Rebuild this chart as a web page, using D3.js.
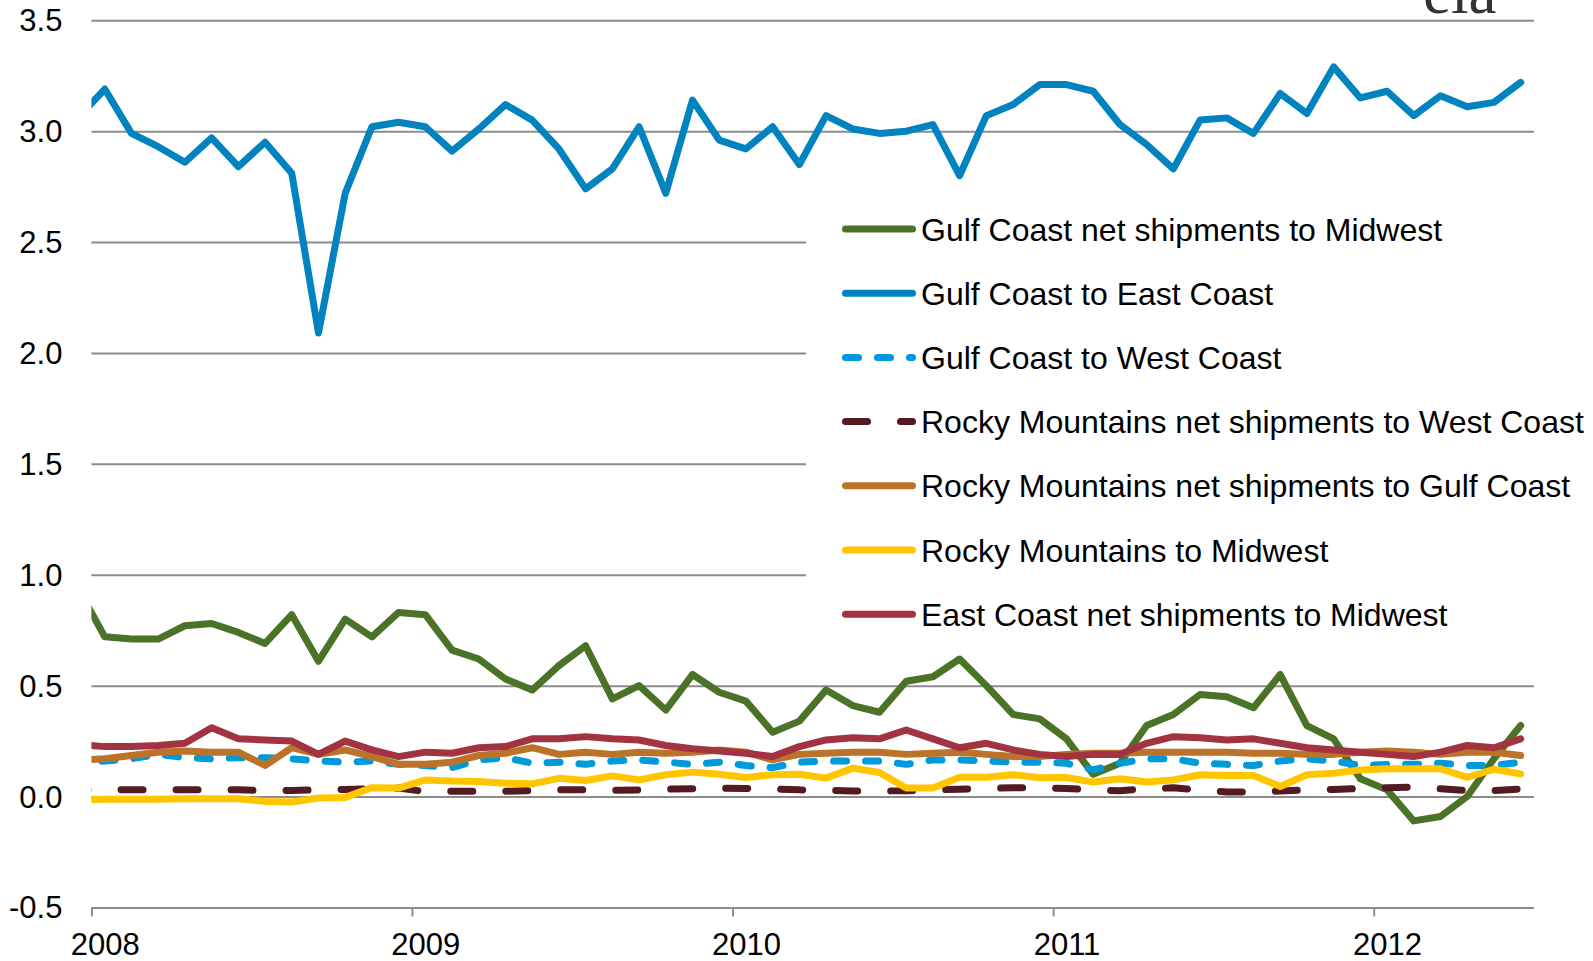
<!DOCTYPE html>
<html>
<head>
<meta charset="utf-8">
<script src="https://cdn.jsdelivr.net/npm/d3@7"></script>
<style>
  body { margin: 0; background: #fff; }
  svg { display: block; }
</style>
</head>
<body>
<div id="vis"></div>
<script>
// monthly points, Dec 2007 - Jun 2012 (Dec 2007 sits left of the plot and gets clipped)
let months = d3.timeMonth.range(new Date(2007, 11, 1), new Date(2012, 6, 1))

let gulfToMidwest = [
  0.94, 0.72, 0.71, 0.71, 0.77, 0.78, 0.74, 0.69, 0.82, 0.61, 0.80, 0.72,
  0.83, 0.82, 0.66, 0.62, 0.53, 0.48, 0.59, 0.68, 0.44, 0.50, 0.39, 0.55,
  0.47, 0.43, 0.29, 0.34, 0.48, 0.41, 0.38, 0.52, 0.54, 0.62, 0.50, 0.37,
  0.35, 0.26, 0.10, 0.15, 0.32, 0.37, 0.46, 0.45, 0.40, 0.55, 0.32, 0.26,
  0.08, 0.03, -0.11, -0.09, 0.00, 0.17, 0.32]
let gulfToEast = [
  3.06, 3.19, 2.99, 2.93, 2.86, 2.97, 2.84, 2.95, 2.81, 2.09, 2.72, 3.02,
  3.04, 3.02, 2.91, 3.01, 3.12, 3.05, 2.92, 2.74, 2.83, 3.02, 2.72, 3.14,
  2.96, 2.92, 3.02, 2.85, 3.07, 3.01, 2.99, 3.00, 3.03, 2.80, 3.07, 3.12,
  3.21, 3.21, 3.18, 3.03, 2.94, 2.83, 3.05, 3.06, 2.99, 3.17, 3.08, 3.29,
  3.15, 3.18, 3.07, 3.16, 3.11, 3.13, 3.22]
let gulfToWest = [
  0.155, 0.16, 0.17, 0.19, 0.175, 0.17, 0.175, 0.175, 0.17, 0.16, 0.155, 0.16,
  0.145, 0.14, 0.13, 0.165, 0.175, 0.15, 0.155, 0.145, 0.16, 0.165, 0.155, 0.145,
  0.155, 0.14, 0.13, 0.155, 0.16, 0.16, 0.16, 0.145, 0.165, 0.165, 0.16, 0.155,
  0.155, 0.15, 0.12, 0.15, 0.17, 0.17, 0.15, 0.145, 0.14, 0.16, 0.17, 0.16,
  0.14, 0.145, 0.145, 0.15, 0.14, 0.14, 0.155]
let rockyToWest = [
  0.03, 0.032, 0.03, 0.03, 0.03, 0.03, 0.03, 0.026, 0.027, 0.03, 0.032, 0.035,
  0.038, 0.022, 0.024, 0.024, 0.024, 0.027, 0.03, 0.03, 0.028, 0.03, 0.033, 0.035,
  0.037, 0.036, 0.034, 0.03, 0.029, 0.025, 0.025, 0.026, 0.03, 0.033, 0.036, 0.04,
  0.04, 0.036, 0.03, 0.026, 0.035, 0.039, 0.03, 0.02, 0.02, 0.025, 0.03, 0.032,
  0.036, 0.04, 0.042, 0.035, 0.027, 0.027, 0.034]
let rockyToGulf = [
  0.165, 0.17, 0.185, 0.20, 0.205, 0.20, 0.20, 0.14, 0.22, 0.19, 0.21, 0.18,
  0.145, 0.145, 0.155, 0.185, 0.195, 0.22, 0.19, 0.20, 0.19, 0.20, 0.195, 0.20,
  0.21, 0.20, 0.165, 0.19, 0.195, 0.20, 0.20, 0.19, 0.195, 0.20, 0.19, 0.18,
  0.18, 0.19, 0.195, 0.195, 0.20, 0.20, 0.20, 0.20, 0.195, 0.195, 0.19, 0.19,
  0.20, 0.205, 0.20, 0.19, 0.20, 0.20, 0.185]
let rockyToMidwest = [
  -0.015, -0.012, -0.012, -0.012, -0.01, -0.01, -0.01, -0.022, -0.025, -0.007, -0.004, 0.04,
  0.038, 0.075, 0.07, 0.068, 0.06, 0.057, 0.082, 0.072, 0.093, 0.075, 0.098, 0.11,
  0.10, 0.086, 0.098, 0.10, 0.083, 0.128, 0.108, 0.038, 0.038, 0.087, 0.087, 0.098,
  0.085, 0.086, 0.065, 0.08, 0.065, 0.075, 0.098, 0.095, 0.095, 0.045, 0.098, 0.105,
  0.12, 0.125, 0.125, 0.125, 0.086, 0.123, 0.102]
let eastToMidwest = [
  0.235, 0.225, 0.225, 0.23, 0.24, 0.31, 0.26, 0.255, 0.25, 0.19, 0.25, 0.21,
  0.18, 0.20, 0.195, 0.22, 0.225, 0.26, 0.26, 0.27, 0.26, 0.255, 0.23, 0.215,
  0.205, 0.195, 0.18, 0.225, 0.255, 0.265, 0.26, 0.30, 0.26, 0.22, 0.24, 0.21,
  0.19, 0.18, 0.19, 0.19, 0.24, 0.27, 0.265, 0.255, 0.26, 0.24, 0.22, 0.21,
  0.20, 0.19, 0.18, 0.20, 0.23, 0.22, 0.26]

let labels = [
  "Gulf Coast net shipments to Midwest",
  "Gulf Coast to East Coast",
  "Gulf Coast to West Coast",
  "Rocky Mountains net shipments to West Coast",
  "Rocky Mountains net shipments to Gulf Coast",
  "Rocky Mountains to Midwest",
  "East Coast net shipments to Midwest"
]
let yTicks = [-0.5, 0, 0.5, 1, 1.5, 2, 2.5, 3, 3.5]
let years = [2008, 2009, 2010, 2011, 2012]

let series = [
  { values: gulfToMidwest, color: "#4a7328" },
  { values: gulfToEast, color: "#0083bf" },
  { values: gulfToWest, color: "#0099d9", dash: "13,19", offset: 8 },
  { values: rockyToWest, color: "#531a22", dash: "22,33", offset: 12 },
  { values: rockyToGulf, color: "#bd7229" },
  { values: rockyToMidwest, color: "#ffc600" },
  { values: eastToMidwest, color: "#a33340" }
].map((s, i) => ({ ...s, label: labels[i] }))

const W = 1593, H = 961
const plotLeft = 91.4, plotRight = 1534, plotTop = 20.3, plotBottom = 907.4
const font = "'Liberation Sans', Arial, sans-serif"
const lineWidth = 7

let svg = d3.select("#vis").append("svg")
    .attr("width", W)
    .attr("height", H)
    .attr("font-family", font)
    .style("background", "#fff")

let x = d3.scaleLinear().domain([2008, 2012.5]).range([plotLeft, plotRight])
let y = d3.scaleLinear().domain([-0.5, 3.5]).range([plotBottom, plotTop])

// mid-month position as a fractional year
let when = d => d.getFullYear() + (d.getMonth() + 0.5) / 12

svg.append("clipPath").attr("id", "plot")
  .append("rect")
    .attr("x", plotLeft).attr("y", 0)
    .attr("width", plotRight - plotLeft).attr("height", H)

// gridlines double as the y axis; the -0.5 one is the x axis line
let fmt = d3.format(".1f")
let gy = svg.append("g")
    .attr("transform", `translate(${plotLeft},0)`)
    .call(d3.axisLeft(y)
        .tickValues(yTicks)
        .tickFormat(d => fmt(d).replace("\u2212", "-"))
        .tickSizeInner(-(plotRight - plotLeft))
        .tickSizeOuter(0)
        .tickPadding(29))
    .attr("font-family", font)
    .attr("font-size", 31)
gy.select(".domain").remove()
gy.selectAll("line").attr("stroke", "#8c8c8c").attr("stroke-width", 2)
gy.selectAll("text").attr("fill", "#000").attr("dy", "0.34em")

let gx = svg.append("g")
    .attr("transform", `translate(0,${plotBottom})`)
    .call(d3.axisBottom(x)
        .tickValues(years)
        .tickFormat(d3.format("d"))
        .tickSizeInner(9)
        .tickSizeOuter(0)
        .tickPadding(17))
    .attr("font-family", font)
    .attr("font-size", 31)
gx.select(".domain").remove()
gx.selectAll("line").attr("stroke", "#8c8c8c").attr("stroke-width", 2)
// labels sit under the January point, half a month right of the tick
gx.selectAll("text").attr("fill", "#000").attr("dx", x(2008 + 0.5 / 12) - x(2008))

// legend box hides the gridlines behind it
svg.append("rect")
    .attr("x", 806).attr("y", 190)
    .attr("width", W - 806).attr("height", 455)
    .attr("fill", "#fff")

let line = d3.line()
    .x((d, i) => x(when(months[i])))
    .y(d => y(d))

svg.append("g")
    .attr("clip-path", "url(#plot)")
  .selectAll("path")
  .data(series)
  .join("path")
    .attr("d", d => line(d.values))
    .attr("fill", "none")
    .attr("stroke", d => d.color)
    .attr("stroke-width", lineWidth)
    .attr("stroke-linejoin", "round")
    .attr("stroke-linecap", "round")
    .attr("stroke-dasharray", d => d.dash || null)
    .attr("stroke-dashoffset", d => d.offset || null)

let legend = svg.append("g")
  .selectAll("g")
  .data(series)
  .join("g")
    .attr("transform", (d, i) => `translate(0,${229 + i * 64.2})`)

legend.append("line")
    .attr("x1", 845.5).attr("x2", 912.5)
    .attr("stroke", d => d.color)
    .attr("stroke-width", lineWidth)
    .attr("stroke-linecap", "round")
    .attr("stroke-dasharray", d => d.dash || null)

legend.append("text")
    .attr("x", 921)
    .attr("y", 11.5)
    .attr("font-size", 32)
    .attr("fill", "#000")
    .text(d => d.label)

// eia logo, cut off by the top of the picture as in the original
svg.append("text")
    .attr("x", 1423).attr("y", 13)
    .attr("font-family", "'Liberation Serif', 'Times New Roman', serif")
    .attr("font-size", 63)
    .attr("fill", "#333")
    .text("eia")
</script>
</body>
</html>
